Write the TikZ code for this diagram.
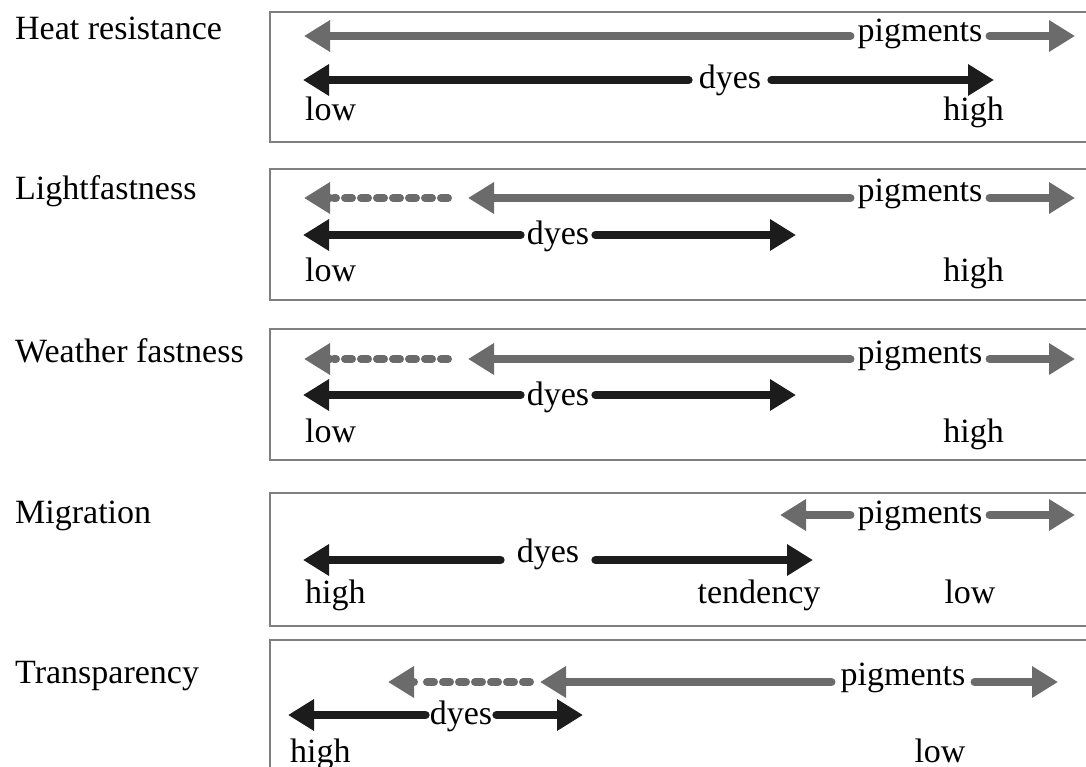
\documentclass[tikz,border=0pt]{standalone}
\usepackage{fontspec}
\setmainfont{Liberation Serif}
\usetikzlibrary{arrows.meta}
\definecolor{garrow}{HTML}{6B6B6B}
\definecolor{karrow}{HTML}{1C1C1C}
\definecolor{boxline}{HTML}{7F7F7F}
\begin{document}
\begin{tikzpicture}[x=1pt,y=-1pt,
  every node/.style={font=\fontsize{34}{40}\selectfont, text=black, inner sep=0pt},
  panel/.style={draw=boxline, line width=1.8pt},
  garr/.style={draw=garrow, line width=8pt, line cap=round, -{Triangle[length=26pt,width=30pt]}},
  karr/.style={draw=karrow, line width=8pt, line cap=round, -{Triangle[length=26pt,width=30pt]}},
  gdash/.style={draw=garrow, line width=8pt, line cap=round, dash pattern=on 7pt off 9pt},
  lbl/.style={anchor=base west},
  txt/.style={anchor=base}
]
\useasboundingbox (0,0) rectangle (1086,767);
% panels
\draw[panel] (270,12) rectangle (1100,142);
\draw[panel] (270,169) rectangle (1100,300);
\draw[panel] (270,329) rectangle (1100,460);
\draw[panel] (270,493) rectangle (1100,626);
\draw[panel] (270,640) rectangle (1100,790);
% left labels
\node[lbl] (L1) at (15,40) {Heat resistance};
\node[lbl] (L2) at (15,200) {Lightfastness};
\node[lbl] (L3) at (15,362) {Weather fastness};
\node[lbl] (L4) at (15,523) {Migration};
\node[lbl] (L5) at (15,683) {Transparency};

% ---- Row 1
\node[txt] (p1) at (920,42) {pigments};
\coordinate (p1l) at (304,36);
\coordinate (p1r) at (1075,36);
\draw[garr] ([xshift=-7pt]p1.west |- p1l) -- (p1l);
\draw[garr] ([xshift=7pt]p1.east |- p1r) -- (p1r);
\node[txt] (d1) at (730,89) {dyes};
\coordinate (d1l) at (303,80);
\coordinate (d1r) at (994,80);
\draw[karr] ([xshift=-10pt]d1.west |- d1l) -- (d1l);
\draw[karr] ([xshift=10pt]d1.east |- d1r) -- (d1r);
\node[lbl] (lo1) at (305,121) {low};
\node[anchor=base east] (hi1) at (1004,121) {high};

% ---- Row 2
\node[txt] (p2) at (920,202) {pigments};
\coordinate (p2l) at (468,198);
\coordinate (p2r) at (1075,198);
\coordinate (p2d) at (448,198);
\coordinate (p2t) at (304,198);
\draw[garr] ([xshift=-7pt]p2.west |- p2l) -- (p2l);
\draw[garr] ([xshift=7pt]p2.east |- p2r) -- (p2r);
\draw[gdash] (p2d) -- ([xshift=30pt]p2t);
\draw[garr] ([xshift=26pt]p2t) -- (p2t);
\node[txt] (d2) at (558,245) {dyes};
\coordinate (d2l) at (303,235);
\coordinate (d2r) at (796,235);
\draw[karr] ([xshift=-6pt]d2.west |- d2l) -- (d2l);
\draw[karr] ([xshift=6pt]d2.east |- d2r) -- (d2r);
\node[lbl] (lo2) at (305,281) {low};
\node[anchor=base east] (hi2) at (1004,281) {high};

% ---- Row 3
\node[txt] (p3) at (920,363) {pigments};
\coordinate (p3l) at (468,359);
\coordinate (p3r) at (1075,359);
\coordinate (p3d) at (448,359);
\coordinate (p3t) at (304,359);
\draw[garr] ([xshift=-7pt]p3.west |- p3l) -- (p3l);
\draw[garr] ([xshift=7pt]p3.east |- p3r) -- (p3r);
\draw[gdash] (p3d) -- ([xshift=30pt]p3t);
\draw[garr] ([xshift=26pt]p3t) -- (p3t);
\node[txt] (d3) at (558,405) {dyes};
\coordinate (d3l) at (303,395);
\coordinate (d3r) at (796,395);
\draw[karr] ([xshift=-6pt]d3.west |- d3l) -- (d3l);
\draw[karr] ([xshift=6pt]d3.east |- d3r) -- (d3r);
\node[lbl] (lo3) at (305,442) {low};
\node[anchor=base east] (hi3) at (1004,442) {high};

% ---- Row 4
\node[txt] (p4) at (920,523) {pigments};
\coordinate (p4l) at (780,515);
\coordinate (p4r) at (1075,515);
\draw[garr] ([xshift=-7pt]p4.west |- p4l) -- (p4l);
\draw[garr] ([xshift=7pt]p4.east |- p4r) -- (p4r);
\node[txt] (d4) at (548,562) {dyes};
\coordinate (d4l) at (303,560);
\coordinate (d4r) at (813,560);
\draw[karr] ([xshift=-16pt]d4.west |- d4l) -- (d4l);
\draw[karr] ([xshift=16pt]d4.east |- d4r) -- (d4r);
\node[lbl] (lo4) at (305,603) {high};
\node[txt] (te4) at (759,603) {tendency};
\node[txt] (hi4) at (970,603) {low};

% ---- Row 5
\node[txt] (p5) at (903,685) {pigments};
\coordinate (p5l) at (540,682);
\coordinate (p5r) at (1058,682);
\coordinate (p5d) at (530,682);
\coordinate (p5t) at (388,682);
\draw[garr] ([xshift=-9pt]p5.west |- p5l) -- (p5l);
\draw[garr] ([xshift=9pt]p5.east |- p5r) -- (p5r);
\draw[gdash] (p5d) -- ([xshift=30pt]p5t);
\draw[garr] ([xshift=26pt]p5t) -- (p5t);
\node[txt] (d5) at (461,724) {dyes};
\coordinate (d5l) at (288,715);
\coordinate (d5r) at (583,715);
\draw[karr] ([xshift=-4pt]d5.west |- d5l) -- (d5l);
\draw[karr] ([xshift=4pt]d5.east |- d5r) -- (d5r);
\node[lbl] (lo5) at (290,762) {high};
\node[txt] (hi5) at (940,762) {low};
\end{tikzpicture}
\end{document}
